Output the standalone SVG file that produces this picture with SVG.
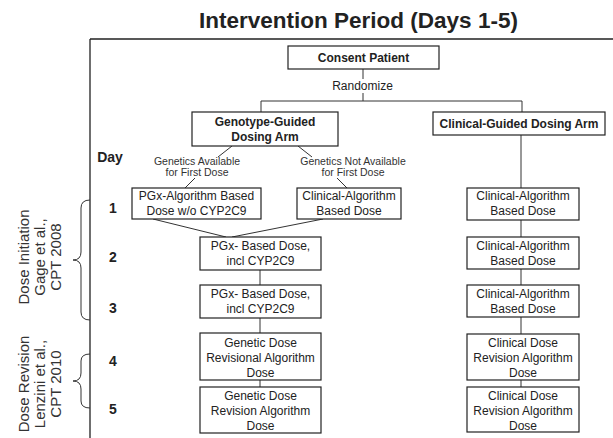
<svg xmlns="http://www.w3.org/2000/svg" width="613" height="438" viewBox="0 0 613 438">
<style>
text{font-family:"Liberation Sans",Arial,sans-serif;fill:#222}
.box{fill:#fff;stroke:#222;stroke-width:1.2}
.t{font-size:12px;text-anchor:middle}
.b{font-size:12px;font-weight:bold;text-anchor:middle}
.s{font-size:10.5px;text-anchor:middle;fill:#333}
.d{font-size:14px;font-weight:bold;text-anchor:middle}
.r{font-size:15px;text-anchor:middle;fill:#333}
.ln{stroke:#333;stroke-width:1;fill:none}
</style>
<rect width="613" height="438" fill="#fff"/>
<text x="358.5" y="28" style="font-size:22.5px;font-weight:bold;text-anchor:middle">Intervention Period (Days 1-5)</text>
<g id="frame">
<path d="M90 39H613M90 39V438" stroke="#222" stroke-width="1.3" fill="none"/>
</g>
<g id="days">
<text x="110" y="162" class="d">Day</text>
<text x="113" y="213" class="d">1</text>
<text x="113" y="262" class="d">2</text>
<text x="113" y="313" class="d">3</text>
<text x="113" y="366" class="d">4</text>
<text x="113" y="414" class="d">5</text>
</g>
<g id="brace1">
<path class="ln" d="M90 200Q81 200 81 208V252Q81 260 73 260Q81 260 81 268V312Q81 320 90 320"/>
<text class="r" transform="translate(29 257) rotate(-90)">Dose Initiation</text>
<text class="r" transform="translate(45 257) rotate(-90)">Gage et al.,</text>
<text class="r" transform="translate(61 257) rotate(-90)">CPT 2008</text>
</g>
<g id="brace2">
<path class="ln" d="M90 354Q81 354 81 361V373Q81 381 73 381Q81 381 81 389V401Q81 408 90 408"/>
<text class="r" transform="translate(29 384) rotate(-90)">Dose Revision</text>
<text class="r" transform="translate(45 384) rotate(-90)">Lenzini et al.,</text>
<text class="r" transform="translate(61 384) rotate(-90)">CPT 2010</text>
</g>
<g id="connectors" class="ln">
<path d="M363 69V79M363 93V101M261 101H522M261 101V112M522 101V112"/>
<path d="M232 146L218 157M195 178L185 188"/>
<path d="M298 146L312 157M337 178L347 188"/>
<path d="M153 219L226 237M323 219L232 237"/>
<path d="M260 270V285M260 318V333M260 380V387"/>
<path d="M521 135V188M521 220V237M521 269V285M521 317V334M521 380V387"/>
</g>
<g id="consent">
<rect class="box" x="288" y="46" width="151" height="23"/>
<text x="363.5" y="62" class="b">Consent Patient</text>
</g>
<text x="362.5" y="90" class="t" id="randomize">Randomize</text>
<g id="genotype">
<rect class="box" x="192" y="112" width="146" height="34"/>
<text x="265" y="126" class="b">Genotype-Guided</text>
<text x="265" y="141" class="b">Dosing Arm</text>
</g>
<g id="clinicalarm">
<rect class="box" x="433" y="112" width="172" height="23"/>
<text x="519" y="128" class="b">Clinical-Guided Dosing Arm</text>
</g>
<g id="lbl-avail">
<text x="197" y="165" class="s">Genetics Available</text>
<text x="197" y="176" class="s">for First Dose</text>
</g>
<g id="lbl-notavail">
<text x="353" y="165" class="s">Genetics Not Available</text>
<text x="353" y="176" class="s">for First Dose</text>
</g>
<g id="pgx-alg">
<rect class="box" x="132" y="188" width="129" height="31"/>
<text x="196.5" y="200" class="t">PGx-Algorithm Based</text>
<text x="196.5" y="215" class="t">Dose w/o CYP2C9</text>
</g>
<g id="clin-alg-g">
<rect class="box" x="297" y="188" width="104" height="31"/>
<text x="349" y="200" class="t">Clinical-Algorithm</text>
<text x="349" y="215" class="t">Based Dose</text>
</g>
<g id="pgx-d2">
<rect class="box" x="200" y="237" width="121" height="33"/>
<text x="260.5" y="250" class="t">PGx- Based Dose,</text>
<text x="260.5" y="265" class="t">incl CYP2C9</text>
</g>
<g id="pgx-d3">
<rect class="box" x="200" y="285" width="121" height="33"/>
<text x="260.5" y="298" class="t">PGx- Based Dose,</text>
<text x="260.5" y="313" class="t">incl CYP2C9</text>
</g>
<g id="gen-d4">
<rect class="box" x="200" y="333" width="121" height="47"/>
<text x="260.5" y="347" class="t">Genetic Dose</text>
<text x="260.5" y="362" class="t">Revisional Algorithm</text>
<text x="260.5" y="377" class="t">Dose</text>
</g>
<g id="gen-d5">
<rect class="box" x="200" y="387" width="121" height="46"/>
<text x="260.5" y="400" class="t">Genetic Dose</text>
<text x="260.5" y="415" class="t">Revision Algorithm</text>
<text x="260.5" y="430" class="t">Dose</text>
</g>
<g id="clin-d1">
<rect class="box" x="467" y="188" width="112" height="32"/>
<text x="523" y="200" class="t">Clinical-Algorithm</text>
<text x="523" y="215" class="t">Based Dose</text>
</g>
<g id="clin-d2">
<rect class="box" x="467" y="237" width="112" height="32"/>
<text x="523" y="250" class="t">Clinical-Algorithm</text>
<text x="523" y="265" class="t">Based Dose</text>
</g>
<g id="clin-d3">
<rect class="box" x="467" y="285" width="112" height="32"/>
<text x="523" y="298" class="t">Clinical-Algorithm</text>
<text x="523" y="313" class="t">Based Dose</text>
</g>
<g id="clin-d4">
<rect class="box" x="467" y="334" width="112" height="46"/>
<text x="523" y="347" class="t">Clinical Dose</text>
<text x="523" y="362" class="t">Revision Algorithm</text>
<text x="523" y="377" class="t">Dose</text>
</g>
<g id="clin-d5">
<rect class="box" x="467" y="387" width="112" height="45"/>
<text x="523" y="400" class="t">Clinical Dose</text>
<text x="523" y="415" class="t">Revision Algorithm</text>
<text x="523" y="430" class="t">Dose</text>
</g>
</svg>
